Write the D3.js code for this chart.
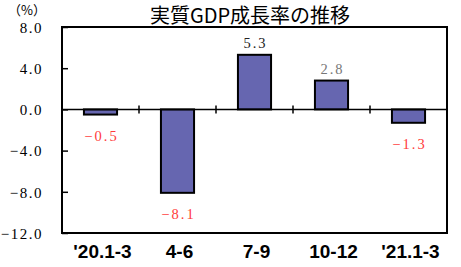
<!DOCTYPE html>
<html>
<head>
<meta charset="utf-8">
<title>実質GDP成長率の推移</title>
<script src="https://cdn.jsdelivr.net/npm/d3@7"></script>
<style>
    body { margin: 0; background: #fff; }
    .ylab { font-family: "Liberation Serif", "DejaVu Serif", serif; font-size: 15px; letter-spacing: 1.5px; }
    .xlab { font-family: "Liberation Sans", Arial, sans-serif; font-weight: bold; font-size: 19px; }
    .val { font-family: "Liberation Serif", "DejaVu Serif", serif; font-size: 14.5px; letter-spacing: 2px; }
    .title { font-family: "Noto Sans CJK JP", sans-serif; font-size: 20px; }
    .unit { font-family: "Noto Sans CJK JP", sans-serif; font-size: 13px; }
</style>
</head>
<body>
<script>
    var categories = ["'20.1-3", "4-6", "7-9", "10-12", "'21.1-3"];
    var growth = [-0.5, -8.1, 5.3, 2.8, -1.3];
    var labelColors = ["#ff3b3b", "#ff3b3b", "#222", "#777", "#ff3b3b"];
    var yTicks = [8, 4, 0, -4, -8, -12];

    var width = 461, height = 267,
        margin = {top: 27, right: 14, bottom: 34, left: 62};

    var fmt = function (d) { return d3.format(".1f")(d).replace("-", "−"); };

    var svg = d3.select("body").append("svg")
        .attr("width", width)
        .attr("height", height);

    var x = d3.scaleBand()
        .domain(categories)
        .range([margin.left, width - margin.right])
        .paddingInner(0.57)
        .paddingOuter(0.285);

    var y = d3.scaleLinear()
        .domain([-12, 8])
        .range([height - margin.bottom, margin.top]);

    var step = x.step();

    // title and unit
    svg.append("text")
        .attr("class", "title")
        .attr("x", 250).attr("y", 23)
        .attr("text-anchor", "middle")
        .text("実質GDP成長率の推移");

    svg.append("text")
        .attr("class", "unit")
        .attr("x", 8).attr("y", 15)
        .text("（%）");

    // bars
    svg.selectAll("rect.bar")
        .data(growth)
        .enter().append("rect")
        .attr("class", "bar")
        .attr("x", function (d, i) { return x(categories[i]); })
        .attr("width", x.bandwidth())
        .attr("y", function (d) { return y(Math.max(0, d)); })
        .attr("height", function (d) { return Math.abs(y(d) - y(0)); })
        .attr("fill", "#6666b0")
        .attr("stroke", "#000")
        .attr("stroke-width", 2);

    // zero line and category ticks
    svg.append("line")
        .attr("x1", margin.left).attr("x2", width - margin.right)
        .attr("y1", y(0)).attr("y2", y(0))
        .attr("stroke", "#000").attr("stroke-width", 1.5);

    svg.selectAll("line.ctick")
        .data(categories.slice(1))
        .enter().append("line")
        .attr("x1", function (d) { return x(d) - x.paddingInner() * step / 2; })
        .attr("x2", function (d) { return x(d) - x.paddingInner() * step / 2; })
        .attr("y1", y(0) - 4).attr("y2", y(0) + 4)
        .attr("stroke", "#000").attr("stroke-width", 1.5);

    // frame
    svg.append("rect")
        .attr("x", margin.left).attr("y", margin.top)
        .attr("width", width - margin.left - margin.right)
        .attr("height", height - margin.top - margin.bottom)
        .attr("fill", "none")
        .attr("stroke", "#000").attr("stroke-width", 2);

    // y axis
    var yAxis = d3.axisLeft(y)
        .tickValues(yTicks)
        .tickSize(-6)
        .tickFormat(fmt);

    var ga = svg.append("g")
        .attr("transform", "translate(" + margin.left + ",0)")
        .call(yAxis)
        .attr("font-family", null)
        .attr("font-size", null);
    ga.select(".domain").remove();
    ga.selectAll("line").attr("stroke", "#000").attr("stroke-width", 1.5);
    ga.selectAll("text")
        .attr("class", "ylab")
        .attr("x", -19)
        .attr("dy", "0.35em")
        .attr("fill", "#000");

    // x labels
    svg.selectAll("text.xlab")
        .data(categories)
        .enter().append("text")
        .attr("class", "xlab")
        .attr("x", function (d) { return x(d) + x.bandwidth() / 2 + 2; })
        .attr("y", 258)
        .attr("text-anchor", "middle")
        .text(function (d) { return d; });

    // value labels
    svg.selectAll("text.val")
        .data(growth)
        .enter().append("text")
        .attr("class", "val")
        .attr("x", function (d, i) { return x(categories[i]) + x.bandwidth() / 2 + 1; })
        .attr("y", function (d) { return d >= 0 ? y(d) - 7 : y(d) + 26; })
        .attr("text-anchor", "middle")
        .attr("fill", function (d, i) { return labelColors[i]; })
        .text(function (d) { return fmt(d); });
</script>
</body>
</html>
